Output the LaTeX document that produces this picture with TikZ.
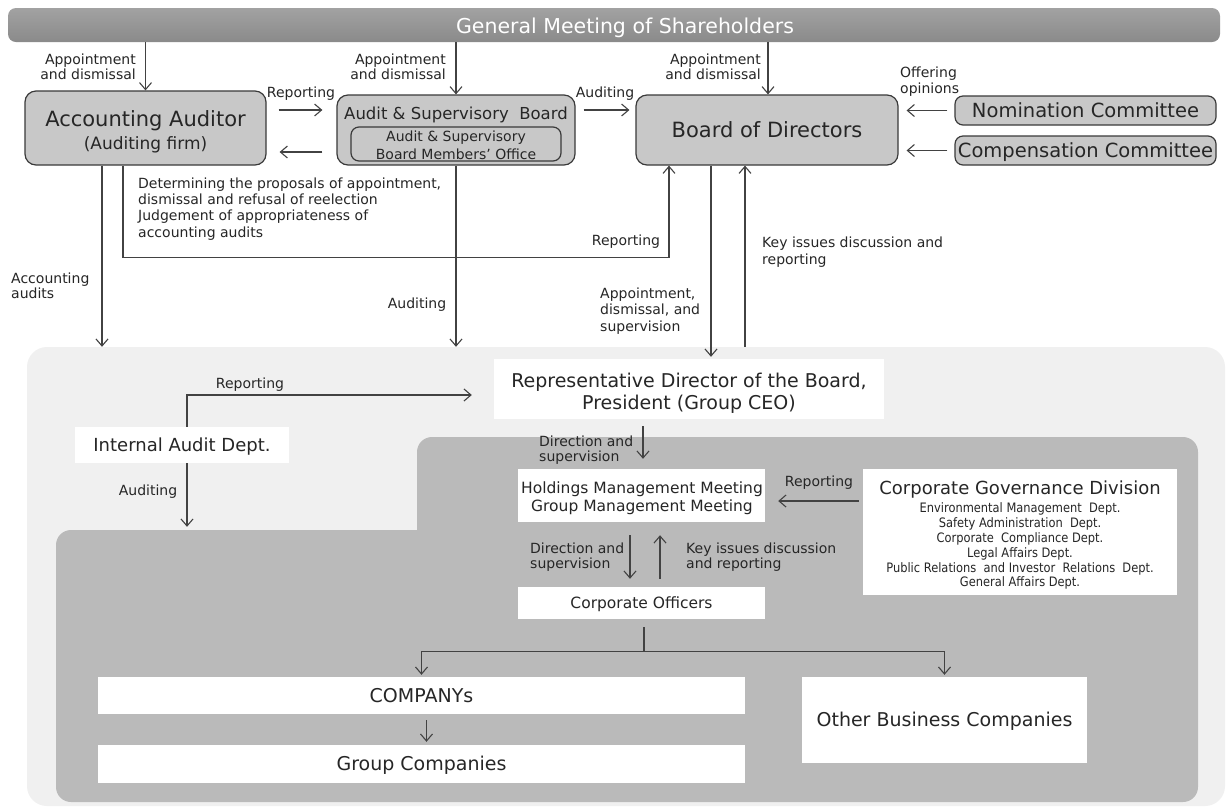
\documentclass[tikz,border=0pt]{standalone}
\usepackage{fontspec}
\setmainfont{DejaVu Sans}
\newfontfamily\condf[FakeStretch=0.88]{DejaVu Sans}
\usetikzlibrary{arrows.meta,calc}
\newcommand\myfs[2]{\fontsize{#1pt}{#2pt}\selectfont}
\definecolor{boxg}{HTML}{C8C8C8}
\definecolor{bord}{HTML}{3A3A3A}
\definecolor{lightbg}{HTML}{F0F0F0}
\definecolor{darkbg}{HTML}{BABABA}
\definecolor{txt}{HTML}{262626}
\definecolor{arrc}{HTML}{424242}
\definecolor{bartop}{HTML}{A2A2A2}
\definecolor{barbot}{HTML}{8A8A8A}
\begin{document}
\begin{tikzpicture}[x=1pt,y=-1pt,
  gbox/.style={draw=bord, fill=boxg, rounded corners=11pt, line width=1.2pt, inner sep=0pt, text=txt},
  wbox/.style={fill=white, inner sep=0pt, text=txt},
  area/.style={inner sep=0pt, draw=none},
  lbl/.style={inner sep=0pt, text=txt, font=\myfs{14}{15.5}},
  arr/.style={draw=arrc, line width=1.1pt, -{Straight Barb[length=7pt,width=12pt]}},
  ln/.style={draw=arrc, line width=1.1pt}]
\useasboundingbox (0,0) rectangle (1228,807);
\fill[white] (0,0) rectangle (1228,807);

% background areas
\node[area, fill=lightbg, rounded corners=20pt, minimum width=1198pt, minimum height=459pt] (outer) at (626,576.5) {};
\node[area, fill=darkbg, rounded corners=15pt, minimum width=1142pt, minimum height=272pt] (dk) at (627,666) {};
\node[area, fill=darkbg, rounded corners=15pt, minimum width=781pt, minimum height=123pt] (dku) at (807.5,498.5) {};

% top bar
\node[area, top color=bartop, bottom color=barbot, rounded corners=8pt, minimum width=1212pt, minimum height=34pt] (gm) at (614,25) {};
\node[inner sep=0pt, anchor=base, text=white, font=\myfs{20.5}{24}] (gmt) at (625,33.4) {General Meeting of Shareholders};

% upper boxes
\node[gbox, minimum width=241pt, minimum height=74pt] (aa) at (145.5,128) {};
\node[inner sep=0pt, anchor=north, align=center, text=txt, font=\myfs{17}{22.5}] (aat) at (145.5,110.6)
  {{\myfs{21}{22.5}Accounting Auditor}\\(Auditing firm)};
\node[gbox, minimum width=238pt, minimum height=70pt] (asb) at (456,130) {};
\node[inner sep=0pt, anchor=base, text=txt, font=\myfs{16.5}{20}] (asbt) at (456,119) {Audit \& Supervisory~~Board};
\node[gbox, rounded corners=8pt, minimum width=210pt, minimum height=34pt] (asbo) at (456,144) {};
\node[inner sep=0pt, anchor=north, align=center, text=txt, font=\myfs{14}{18}] (asbot) at (456,130.4)
  {Audit \& Supervisory\\Board Members’ Office};
\node[gbox, minimum width=262pt, minimum height=70pt, font=\myfs{21}{25}, text height=15.1pt, text depth=0pt] (bod) at (767,130) {Board of Directors};
\node[gbox, rounded corners=8pt, minimum width=261pt, minimum height=29pt, font=\myfs{19.5}{23}, text height=14pt, text depth=0pt] (nom) at (1085.5,110.5) {Nomination Committee};
\node[gbox, rounded corners=8pt, minimum width=261pt, minimum height=29pt, font=\myfs{19.5}{23}, text height=14pt, text depth=0pt] (comp) at (1085.5,150.5) {Compensation Committee};

% white boxes
\node[wbox, minimum width=390pt, minimum height=60pt] (rep) at (689,389) {};
\node[inner sep=0pt, anchor=north, align=center, text=txt, font=\myfs{19}{22}] (rept) at (689,372.4)
  {Representative Director of the Board,\\President (Group CEO)};
\node[wbox, minimum width=214pt, minimum height=36pt, font=\myfs{18}{22}, text height=13pt, text depth=0pt] (ia) at (182,445) {Internal Audit Dept.};
\node[wbox, minimum width=247pt, minimum height=53pt] (hm) at (641.5,495.5) {};
\node[inner sep=0pt, anchor=north, align=center, text=txt, font=\myfs{15.5}{18}] (hmt) at (642,481.8)
  {Holdings Management Meeting\\Group Management Meeting};
\node[wbox, minimum width=314pt, minimum height=126pt] (cg) at (1020,532) {};
\node[inner sep=0pt, anchor=north, align=center, text=txt, font=\condf\myfs{13}{14.8}] (cgt) at (1020,480.8)
  {{\normalfont\myfs{18}{14.8}Corporate Governance Division}\\[3.4pt]
   Environmental Management~~Dept.\\
   Safety Administration~~Dept.\\
   Corporate~~Compliance Dept.\\
   Legal Affairs Dept.\\
   Public Relations~~and Investor~~Relations~~Dept.\\
   General Affairs Dept.};
\node[wbox, minimum width=247pt, minimum height=32pt, font=\myfs{15.5}{18}, text height=11.2pt, text depth=0pt] (co) at (641.5,603) {Corporate Officers};
\node[wbox, minimum width=647pt, minimum height=37pt, font=\myfs{19}{22}, text height=13.7pt, text depth=0pt] (cmp) at (421.5,695.5) {COMPANYs};
\node[wbox, minimum width=647pt, minimum height=38pt, font=\myfs{19}{22}, text height=13.7pt, text depth=0pt] (grp) at (421.5,764) {Group Companies};
\node[wbox, minimum width=285pt, minimum height=86pt, font=\myfs{19}{22}, text height=13.7pt, text depth=0pt] (obc) at (944.5,720) {Other Business Companies};

% labels
\node[lbl, anchor=north east, align=right] (l1) at (136,53.4) {Appointment\\and dismissal};
\node[lbl, anchor=north east, align=right] (l2) at (446,53.4) {Appointment\\and dismissal};
\node[lbl, anchor=north east, align=right] (l3) at (761,53.4) {Appointment\\and dismissal};
\node[lbl, anchor=base] (l4) at (301,97) {Reporting};
\node[lbl, anchor=base] (l5) at (605,97) {Auditing};
\node[lbl, anchor=north west, align=left, font=\myfs{14}{16}] (l6) at (900,66.4) {Offering\\opinions};
\node[lbl, anchor=north west, align=left, font=\myfs{14}{16.3}] (l7) at (138,177.4)
  {Determining the proposals of appointment,\\dismissal and refusal of reelection\\Judgement of appropriateness of\\accounting audits};
\node[lbl, anchor=north west, align=left] (l8) at (11,272.4) {Accounting\\audits};
\node[lbl, anchor=base] (l9) at (626,245) {Reporting};
\node[lbl, anchor=base] (l10) at (417,308) {Auditing};
\node[lbl, anchor=north west, align=left, font=\myfs{14}{16.5}] (l11) at (600,287.4) {Appointment,\\dismissal, and\\supervision};
\node[lbl, anchor=north west, align=left, font=\myfs{14}{17}] (l12) at (762,236.4) {Key issues discussion and\\reporting};
\node[lbl, anchor=base] (l13) at (250,388) {Reporting};
\node[lbl, anchor=base] (l14) at (148,495) {Auditing};
\node[lbl, anchor=north west, align=left] (l15) at (539,435.4) {Direction and\\supervision};
\node[lbl, anchor=base] (l16) at (819,486) {Reporting};
\node[lbl, anchor=north west, align=left] (l17) at (530,542.4) {Direction and\\supervision};
\node[lbl, anchor=north west, align=left] (l18) at (686,542.4) {Key issues discussion\\and reporting};

% connectors
\draw[arr] (aa.north |- gm.south) -- (aa.north);
\draw[arr] (asb.north |- gm.south) -- (asb.north);
\draw[arr] ([xshift=1pt]bod.north |- gm.south) -- ([xshift=1pt]bod.north);
\draw[arr] ([shift={(12pt,18pt)}]aa.east) -- ([shift={(-14pt,20pt)}]asb.west);
\draw[arr] ([shift={(-14pt,-22pt)}]asb.west) -- ([shift={(13pt,-24pt)}]aa.east);
\draw[arr] ([shift={(8pt,20pt)}]asb.east) -- ([shift={(-6pt,20pt)}]bod.west);
\draw[arr] ([xshift=-7pt]nom.west) -- ([xshift=8pt]bod.east |- nom.west);
\draw[arr] ([xshift=-7pt]comp.west) -- ([xshift=8pt]bod.east |- comp.west);
\draw[arr] ([xshift=-43.5pt]aa.south) -- ([xshift=-43.5pt]aa.south |- outer.north);
\draw[arr] ([xshift=-22.5pt]aa.south) -- ++(0,92) -| ([xshift=-98pt]bod.south);
\draw[arr] (asb.south) -- (asb.south |- outer.north);
\draw[arr, shorten >=2pt] ([xshift=-56pt]bod.south) -- ([xshift=-56pt]bod.south |- rep.north);
\draw[arr] ([xshift=-22pt]bod.south |- outer.north) -- ([xshift=-22pt]bod.south);
\draw[arr] ([xshift=5pt]ia.north) |- ([shift={(-22pt,-6pt)}]rep.west);
\draw[arr, shorten >=3pt] ([xshift=5pt]ia.south) -- ([xshift=5pt]ia.south |- dk.north);
\draw[arr, shorten <=7pt, shorten >=10pt] ([xshift=1.5pt]hm.north |- rep.south) -- ([xshift=1.5pt]hm.north);
\draw[arr] ([shift={(-4pt,31pt)}]cg.west) -- ([shift={(13pt,-5.5pt)}]hm.east);
\draw[arr, shorten <=13pt, shorten >=8pt] ([xshift=-11.5pt]hm.south) -- ([xshift=-11.5pt]co.north);
\draw[arr, shorten <=8pt, shorten >=13pt] ([xshift=18.5pt]co.north) -- ([xshift=18.5pt]hm.south);
\draw[ln] ([shift={(2.5pt,-8pt)}]co.south) -- ++(0,24) coordinate (br);
\draw[arr, shorten >=2pt] (br) -| (cmp.north);
\draw[arr, shorten >=2pt] (br) -| (obc.north);
\draw[arr, shorten <=6pt, shorten >=3pt] ([xshift=5pt]cmp.south) -- ([xshift=5pt]grp.north);
\end{tikzpicture}
\end{document}
